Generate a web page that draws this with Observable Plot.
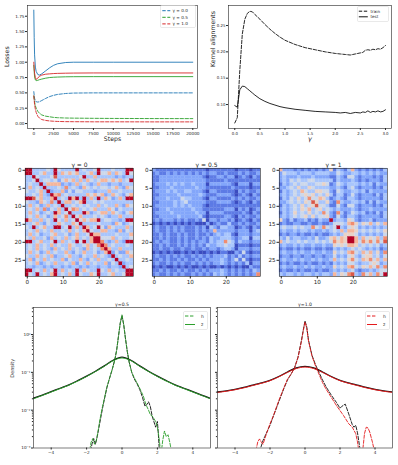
<!DOCTYPE html>
<html><head><meta charset="utf-8">
<script src="https://cdn.jsdelivr.net/npm/d3@7"></script>
<script src="https://cdn.jsdelivr.net/npm/@observablehq/plot@0.6"></script>
<style>
body{margin:0;background:#fff;}
#fig{position:relative;width:398px;height:465px;overflow:hidden;background:#fff;}
</style></head><body><div id="fig"></div>
<script>
// ---------- Panel A: losses vs steps ----------
const lossSteps = [0, 50, 100, 200, 300, 500, 700, 1000, 1500, 2000, 2500, 3000, 4000, 5000, 7500, 10000, 15000, 20000];
const lossSolidG0  = [1.85, 1.40, 1.12, 0.92, 0.85, 0.80, 0.79, 0.81, 0.86, 0.91, 0.95, 0.975, 0.995, 1.0, 1.0, 1.0, 1.0, 1.0];
const lossDashG0   = [0.52, 0.46, 0.41, 0.37, 0.355, 0.35, 0.355, 0.375, 0.41, 0.44, 0.46, 0.475, 0.49, 0.497, 0.5, 0.5, 0.5, 0.5];
const lossSolidG05 = [0.95, 0.85, 0.76, 0.71, 0.70, 0.705, 0.715, 0.725, 0.74, 0.75, 0.755, 0.758, 0.762, 0.764, 0.765, 0.765, 0.765, 0.765];
const lossDashG05  = [0.45, 0.40, 0.35, 0.29, 0.25, 0.20, 0.17, 0.14, 0.12, 0.11, 0.10, 0.095, 0.09, 0.088, 0.085, 0.083, 0.081, 0.08];
const lossSolidG1  = [1.0, 0.90, 0.82, 0.75, 0.72, 0.74, 0.77, 0.79, 0.805, 0.81, 0.815, 0.818, 0.821, 0.823, 0.825, 0.825, 0.825, 0.825];
const lossDashG1   = [0.45, 0.38, 0.31, 0.23, 0.18, 0.12, 0.09, 0.065, 0.05, 0.042, 0.037, 0.034, 0.031, 0.03, 0.028, 0.028, 0.027, 0.027];
const lossXTicks = [0, 2500, 5000, 7500, 10000, 12500, 15000, 17500, 20000];
const lossYTicks = [0, 0.25, 0.5, 0.75, 1.0, 1.25, 1.5, 1.75];
const lossLegend = ["γ = 0.0", "γ = 0.5", "γ = 1.0"];

// ---------- Panel B: kernel alignments vs gamma ----------
const kaGamma = [0, 0.05, 0.1, 0.15, 0.2, 0.25, 0.3, 0.35, 0.4, 0.5, 0.6, 0.7, 0.8, 0.9, 1.0, 1.2, 1.4, 1.6, 1.8, 2.0, 2.1, 2.2, 2.3, 2.4, 2.5, 2.55, 2.6, 2.65, 2.7, 2.75, 2.8, 2.85, 2.9, 2.95, 3.0];
const kaTrain = [0.065, 0.075, 0.165, 0.234, 0.262, 0.273, 0.277, 0.276, 0.271, 0.262, 0.252, 0.243, 0.235, 0.228, 0.222, 0.214, 0.208, 0.204, 0.2, 0.197, 0.196, 0.195, 0.194, 0.196, 0.198, 0.199, 0.203, 0.204, 0.203, 0.205, 0.204, 0.206, 0.205, 0.208, 0.212];
const kaTest  = [0.098, 0.095, 0.128, 0.135, 0.134, 0.13, 0.126, 0.122, 0.118, 0.111, 0.106, 0.102, 0.099, 0.096, 0.094, 0.091, 0.089, 0.087, 0.086, 0.085, 0.084, 0.085, 0.083, 0.085, 0.084, 0.086, 0.085, 0.088, 0.085, 0.087, 0.086, 0.088, 0.086, 0.087, 0.09];
const kaXTicks = [0, 0.5, 1.0, 1.5, 2.0, 2.5, 3.0];
const kaYTicks = [0.10, 0.15, 0.20, 0.25];

// ---------- Panel C: kernel matrices (lower triangles, levels 0-9) ----------
const hmTitles = ["γ = 0", "γ = 0.5", "γ = 1"];
const hmGamma0 = [
"9","99","339","3349","34339","363439","4334639","33436329","998463369","4332643739",
"36342363439","343637243639","3634234396349","34363423634739","963363439436349","3346324336433649",
"43934633993493639","343634363343634369","3634233463342363349","43633426343634634369",
"993463349363439493699","3436343634336433463479","34363432634363432634379","363423634336324363342369",
"4336343623346332433634329","36243634336243363243633439","343623436334362436343362439",
"3323323233232332323323323329","99343634936343936433943634339","943934369343639433649334633499"];
const hmGamma05 = [
"2","12","112","1122","12223","112223","1222323","11222223","122232224","1122223234",
"12222232323","112232222223","1222232222223","11222223222223","121222121211214","0101010101010002",
"12112121211121203","121121212111212126","1121211212112112123","11212112121121213223",
"121221121212122132337","1121211212121213223343","11211211211211212212332","010101001010100101011002",
"1211212121121212122231213","11212112121121212223212414","121121212112121212232121213",
"0101001010100101001010101002","11212112121121212223212121213","121121212112121213232121212127"];
const hmGamma1 = [
"6","24","232","2324","13234","223435","1323436","23234345","132435347","2234343548",
"13234353458","232343546345","1323534353437","23234345353445","521312231213229","1211221121121124",
"34334343374374349","232232332322323436","1212212112121123235","32423322324223564659",
"634334343343434756599","2322323223223225454665","12112121121121132323434","232232322322322534367436",
"1221221221221224232453245","23223232232322363435743657","121211212112121323244323345",
"2322322323223225343674354647","12112121121211232323421223234","323323233232332635478327463749"];
const hmXTicks = [0, 10, 20];
const hmYTicks = [0, 5, 10, 15, 20, 25];
const coolwarm = ["#3b4cc0","#5977e3","#7b9ff9","#9ebeff","#c0d4f5","#dddcdc","#f2cbb7","#f7ac8e","#ee8468","#d65244","#b40426"];

// ---------- Panel D: densities (log10 of density) ----------
const densX = [-5,-4.5,-4,-3.5,-3,-2.5,-2,-1.5,-1,-0.5,0,0.5,1,1.5,2,2.5,3,3.5,4,4.5,5];
const zG05Exp    = [-1.70,-1.61,-1.52,-1.43,-1.34,-1.23,-1.11,-0.98,-0.84,-0.69,-0.62,-0.69,-0.84,-0.98,-1.11,-1.23,-1.34,-1.43,-1.52,-1.61,-1.70];
const zRefG05Exp = [-1.68,-1.60,-1.51,-1.42,-1.33,-1.22,-1.10,-0.97,-0.83,-0.68,-0.60,-0.68,-0.83,-0.97,-1.10,-1.22,-1.33,-1.42,-1.51,-1.60,-1.69];
const hG05X   = [-1.9,-1.75,-1.65,-1.55,-1.45,-1.35,-1.25,-1.1,-1.0,-0.85,-0.7,-0.55,-0.4,-0.3,-0.2,-0.1,0,0.1,0.2,0.3,0.4,0.55,0.7,0.85,1.0,1.1,1.2,1.35,1.5,1.6,1.7,1.8,1.9,2.0,2.1,2.2,2.3,2.4,2.5,2.6,2.7,2.8,2.9];
const hG05Exp = [-3.3,-2.85,-2.75,-2.9,-2.8,-2.55,-2.25,-1.9,-1.7,-1.38,-1.15,-0.92,-0.66,-0.42,-0.05,0.3,0.52,0.25,-0.12,-0.45,-0.72,-1.0,-1.15,-1.28,-1.42,-1.52,-1.62,-1.85,-2.0,-2.12,-2.15,-2.22,-2.3,-2.45,-2.75,-3.2,-2.8,-2.55,-2.7,-2.65,-2.85,-3.1,-3.4];
const hRefG05X   = [-1.8,-1.7,-1.6,-1.5,-1.4,-1.3,-1.2,-1.1,-1.0,-0.85,-0.7,-0.55,-0.4,-0.3,-0.2,-0.1,0,0.1,0.2,0.3,0.4,0.55,0.7,0.85,1.0,1.15,1.3,1.4,1.5,1.6,1.7,1.8,1.9,2.0,2.05,2.1,2.2];
const hRefG05Exp = [-3.2,-2.9,-2.75,-2.9,-2.7,-2.45,-2.2,-1.95,-1.72,-1.4,-1.15,-0.92,-0.65,-0.4,-0.05,0.3,0.5,0.25,-0.12,-0.45,-0.72,-1.0,-1.18,-1.3,-1.45,-1.65,-1.9,-1.85,-1.78,-1.9,-2.15,-2.3,-2.45,-2.3,-2.6,-3.0,-3.5];
const zG1Exp    = [-1.53,-1.50,-1.46,-1.41,-1.35,-1.29,-1.22,-1.12,-1.0,-0.9,-0.86,-0.9,-1.0,-1.12,-1.22,-1.29,-1.35,-1.41,-1.46,-1.50,-1.53];
const zRefG1Exp = [-1.52,-1.49,-1.45,-1.40,-1.34,-1.28,-1.21,-1.11,-0.99,-0.88,-0.84,-0.88,-0.99,-1.11,-1.21,-1.28,-1.34,-1.40,-1.45,-1.49,-1.52];
const hG1X   = [-2.8,-2.7,-2.6,-2.5,-2.4,-2.3,-2.2,-2.0,-1.8,-1.5,-1.2,-1.0,-0.8,-0.6,-0.4,-0.2,-0.1,0,0.1,0.2,0.4,0.6,0.8,1.0,1.2,1.5,1.8,2.0,2.2,2.5,2.7,2.9,3.0,3.1,3.3,3.4,3.5,3.6,3.7,3.85,4.0];
const hG1Exp = [-3.06,-2.84,-2.76,-2.84,-2.9,-2.76,-2.62,-2.36,-2.14,-1.75,-1.40,-1.18,-1.05,-0.89,-0.61,-0.17,0.09,0.33,0.17,-0.17,-0.57,-0.83,-1.05,-1.27,-1.44,-1.66,-1.88,-2.01,-2.14,-2.36,-2.45,-2.62,-2.84,-3.15,-3.06,-2.62,-2.45,-2.47,-2.58,-2.84,-3.15];
const hRefG1X   = [-2.6,-2.5,-2.4,-2.3,-2.1,-2.0,-1.8,-1.5,-1.2,-1.0,-0.8,-0.6,-0.4,-0.2,-0.1,0,0.1,0.2,0.4,0.6,0.8,1.0,1.2,1.5,1.8,2.0,2.1,2.3,2.5,2.7,2.8,2.9,3.0,3.1,3.2];
const hRefG1Exp = [-3.1,-2.95,-2.8,-2.7,-2.5,-2.4,-2.15,-1.78,-1.42,-1.2,-1.05,-0.88,-0.6,-0.15,0.12,0.36,0.2,-0.15,-0.55,-0.8,-1.0,-1.2,-1.38,-1.6,-1.8,-1.95,-1.9,-1.84,-2.1,-2.38,-2.45,-2.4,-2.6,-2.9,-3.2];
const densXTicks = [-4, -2, 0, 2, 4];
const densYTicks = [1, 0.1, 0.01, 0.001];
const densYLabels = ["10⁰", "10⁻¹", "10⁻²", "10⁻³"];
const densMinor = [2,3,4,5,6,7,8,9].flatMap(k => [k*1e-3, k*1e-2, k*1e-1]).concat([2,3,4,5]);

// ---------- drawing ----------
const fig = document.getElementById("fig");
const FONT = "'DejaVu Sans', sans-serif";
const INK = "#262626";
function place(node, left, top) {
  node.style.position = "absolute"; node.style.left = left + "px"; node.style.top = top + "px";
  fig.appendChild(node);
}
const st = fs => ({fontFamily: FONT, fontSize: fs + "px", color: INK, background: "transparent", overflow: "visible"});
const DASH = "3.4,1.6";
const C0 = "#1f77b4", C1 = "#2ca02c", C2 = "#d62728";

function legend(left, top, w, h, items, o) {
  const svg = d3.create("svg").attr("width", w).attr("height", h);
  svg.append("rect").attr("x", 0.5).attr("y", 0.5).attr("width", w - 1).attr("height", h - 1).attr("rx", 1.2)
    .attr("fill", "white").attr("fill-opacity", 0.85).attr("stroke", "#d3d3d3").attr("stroke-width", 0.5);
  items.forEach((it, i) => {
    const y = o.y0 + i * o.dy;
    svg.append("line").attr("x1", o.lx).attr("x2", o.lx + o.ll).attr("y1", y).attr("y2", y)
      .attr("stroke", it.color).attr("stroke-width", it.sw || 1).attr("stroke-dasharray", it.dash || null);
    svg.append("text").attr("x", o.tx).attr("y", y).attr("dy", "0.35em").attr("font-size", o.fs)
      .attr("font-family", FONT).attr("fill", INK).text(it.label);
  });
  place(svg.node(), left, top);
}

// Panel A
const lossSeries = [
  {v: lossSolidG0, c: C0, d: null}, {v: lossDashG0, c: C0, d: DASH},
  {v: lossSolidG05, c: C1, d: null}, {v: lossDashG05, c: C1, d: DASH},
  {v: lossSolidG1, c: C2, d: null}, {v: lossDashG1, c: C2, d: DASH}
];
place(Plot.plot({
  width: 200, height: 145, marginLeft: 27, marginRight: 3, marginTop: 5, marginBottom: 17,
  style: st(4.2),
  x: {domain: [-792, 20592]}, y: {domain: [-0.081, 1.925]},
  marks: [
    ...lossSeries.map(s => Plot.lineY(s.v, {x: lossSteps, stroke: s.c, strokeWidth: 0.9, strokeDasharray: s.d})),
    Plot.frame({stroke: INK, strokeWidth: 0.6}),
    Plot.axisX({ticks: lossXTicks, tickSize: 2, tickPadding: 1.5, tickFormat: d => String(d), label: null}),
    Plot.axisY({ticks: lossYTicks, tickSize: 2, tickPadding: 1, tickFormat: d3.format(".2f"), label: null}),
    Plot.text(["Steps"], {text: d => d, frameAnchor: "bottom", dy: 12.8, fontSize: 6.2}),
    Plot.text(["Losses"], {text: d => d, frameAnchor: "left", dx: -20, rotate: -90, fontSize: 6.2})
  ]
}), 0, 0);
legend(160, 5, 36, 23, lossLegend.map((l, i) => ({label: l, color: [C0, C1, C2][i], dash: DASH})),
  {y0: 5.7, dy: 6.6, lx: 2.3, ll: 8, tx: 12.5, fs: 4.2});

// Panel B
place(Plot.plot({
  width: 198, height: 145, marginLeft: 28, marginRight: 7, marginTop: 5, marginBottom: 17,
  style: st(3.9),
  x: {domain: [-0.125, 3.12]}, y: {domain: [0.0545, 0.288]},
  marks: [
    Plot.lineY(kaTrain, {x: kaGamma, stroke: "#111", strokeWidth: 0.9, strokeDasharray: DASH}),
    Plot.lineY(kaTest, {x: kaGamma, stroke: "#111", strokeWidth: 0.9}),
    Plot.frame({stroke: INK, strokeWidth: 0.6}),
    Plot.axisX({ticks: kaXTicks, tickSize: 2, tickPadding: 1.5, tickFormat: d3.format(".1f"), label: null}),
    Plot.axisY({ticks: kaYTicks, tickSize: 2, tickPadding: 1, tickFormat: d3.format(".2f"), label: null}),
    Plot.text(["γ"], {text: d => d, frameAnchor: "bottom", dy: 12.5, fontSize: 6.4, fontStyle: "italic"}),
    Plot.text(["Kernel alignments"], {text: d => d, frameAnchor: "left", dx: -15.5, rotate: -90, fontSize: 6.2})
  ]
}), 200, 0);
legend(357, 6, 32, 16, [{label: "train", color: "#111", dash: DASH}, {label: "test", color: "#111"}],
  {y0: 5.2, dy: 5.6, lx: 1.8, ll: 9, tx: 13.5, fs: 4.1});

// Panel C
function cellsFrom(tri) {
  const out = [];
  for (let r = 0; r < 30; r++) for (let c = 0; c < 30; c++)
    out.push({r, c, v: +(r >= c ? tri[r][c] : tri[c][r])});
  return out;
}
[hmGamma0, hmGamma05, hmGamma1].forEach((tri, k) => {
  const data = cellsFrom(tri);
  place(Plot.plot({
    width: 141, height: 141, marginLeft: 25, marginRight: 8, marginTop: 18, marginBottom: 15,
    style: st(5.6),
    x: {type: "band", domain: d3.range(30), padding: 0, round: false, axis: null},
    y: {type: "band", domain: d3.range(30), padding: 0, round: false, axis: null},
    color: {type: "linear", domain: d3.range(11).map(i => i * 0.9), range: coolwarm},
    marks: [
      Plot.cell(data, {x: "c", y: "r", fill: "v", stroke: "v", strokeWidth: 0.25}),
      Plot.frame({stroke: INK, strokeWidth: 0.6}),
      Plot.axisX({anchor: "bottom", ticks: hmXTicks, tickSize: 2.5, tickPadding: 1, label: null}),
      Plot.axisY({anchor: "left", ticks: hmYTicks, tickSize: 2.5, tickPadding: 1.5, label: null}),
      Plot.text([hmTitles[k]], {text: d => d, frameAnchor: "top", dy: -6, fontSize: 6})
    ]
  }), [0, 127, 254][k], 150);
});

// Panel D
function densPlot(o) {
  return Plot.plot({
    width: o.w, height: 170, marginLeft: o.ml, marginRight: o.mr, marginTop: 12, marginBottom: 17.5,
    style: st(4.2),
    x: {domain: [-5, 5]}, y: {type: "log", domain: [1e-3, 5.18]},
    marks: [
      Plot.lineY(o.zRef.map(e => 10 ** e), {x: densX, stroke: "#111", strokeWidth: 1.3, curve: "catmull-rom", clip: true}),
      Plot.lineY(o.z.map(e => 10 ** e), {x: densX, stroke: o.color, strokeWidth: 1, curve: "catmull-rom", clip: true}),
      Plot.lineY(o.hRef.map(e => 10 ** e), {x: o.hRefX, stroke: "#111", strokeWidth: 0.9, strokeDasharray: DASH, clip: true}),
      Plot.lineY(o.h.map(e => 10 ** e), {x: o.hX, stroke: o.color, strokeWidth: 0.9, strokeDasharray: DASH, clip: true}),
      Plot.frame({stroke: INK, strokeWidth: 0.6}),
      Plot.axisX({ticks: densXTicks, tickSize: 2, tickPadding: 1.5, label: null}),
      Plot.axisY({ticks: densMinor, tickSize: 1.1, tickFormat: () => "", label: null}),
      Plot.axisY({ticks: densYTicks, tickSize: 2, tickPadding: 1,
        tickFormat: o.showY ? (d => densYLabels[densYTicks.indexOf(d)]) : (() => ""), label: null}),
      Plot.text([o.title], {text: d => d, frameAnchor: "top", dy: -5, fontSize: 4.6}),
      ...(o.showY ? [Plot.text(["Density"], {text: d => d, frameAnchor: "left", dx: -21, rotate: -90, fontSize: 5})] : [])
    ]
  });
}
place(densPlot({w: 215, ml: 33, mr: 5, title: "γ=0.5", color: "#2ca02c", showY: true,
  z: zG05Exp, zRef: zRefG05Exp, hX: hG05X, h: hG05Exp, hRefX: hRefG05X, hRef: hRefG05Exp}), 0, 295);
place(densPlot({w: 186, ml: 5, mr: 6, title: "γ=1.0", color: "#e41a1c", showY: false,
  z: zG1Exp, zRef: zRefG1Exp, hX: hG1X, h: hG1Exp, hRefX: hRefG1X, hRef: hRefG1Exp}), 212, 295);
legend(183, 311, 25, 19, [{label: "h", color: "#2ca02c", dash: DASH}, {label: "z", color: "#2ca02c"}],
  {y0: 5, dy: 8.5, lx: 2, ll: 10, tx: 18, fs: 4.4});
legend(365, 311, 25, 19, [{label: "h", color: "#e41a1c", dash: DASH}, {label: "z", color: "#e41a1c"}],
  {y0: 5, dy: 8.5, lx: 2, ll: 10, tx: 18, fs: 4.4});
</script></body></html>
